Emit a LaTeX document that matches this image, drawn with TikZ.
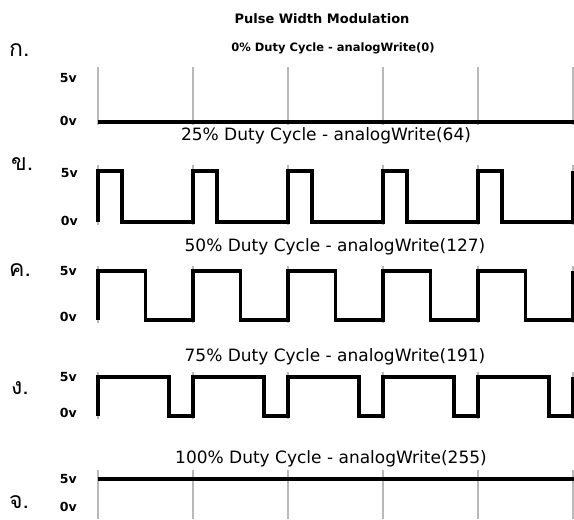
\documentclass[tikz,border=0pt]{standalone}
\usepackage{fontspec}
\setmainfont{DejaVu Sans}
\newfontfamily\thaifont[Script=Thai]{Loma}
\usetikzlibrary{positioning}

\begin{document}
\begin{tikzpicture}[x=1pt,y=-1pt,
  gridline/.style={color=gray!55, line width=1.1pt},
  wave/.style={color=black, line width=3.8pt, line join=miter},
  volt/.style={anchor=east, inner sep=0pt, font=\fontsize{12.5}{12.5}\selectfont\bfseries},
  caption/.style={inner sep=0pt, font=\fontsize{17}{17}\selectfont},
  choice/.style={anchor=west, inner sep=0pt, font=\thaifont\fontsize{23}{23}\selectfont}]
\useasboundingbox (0,0) rectangle (574,520);

\node[inner sep=0pt, font=\fontsize{13}{13}\selectfont\bfseries] (title) at (322,19) {Pulse Width Modulation};

% 0% 
\node[choice] (optA) at (9,50) {ก.};
\node[caption, font=\fontsize{11.5}{11.5}\selectfont\bfseries] (capA) at (333,48) {0\% Duty Cycle - analogWrite(0)};
\node[volt] (hiA) at (77,78) {5v};
\node[volt] (loA) at (77,121) {0v};
\foreach \x in {98,193,...,573} \draw[gridline] (\x,67) -- (\x,125);
\draw[wave] (98,122) -- (574,122);

% 25%
\node[choice] (optB) at (11,164) {ข.};
\node[caption] (capB) at (326,136) {25\% Duty Cycle - analogWrite(64)};
\node[volt] (hiB) at (78,173) {5v};
\node[volt] (loB) at (78,221) {0v};
\foreach \x in {98,193,...,573} \draw[gridline] (\x,165) -- (\x,225);
\draw[wave] (98,222) \foreach \x in {98,193,288,383,478} { -- (\x,171) -- (\x+24,171) -- (\x+24,222) -- (\x+95,222) } -- (573,171);

% 50%
\node[choice] (optC) at (9,270) {ค.};
\node[caption] (capC) at (335,247) {50\% Duty Cycle - analogWrite(127)};
\node[volt] (hiC) at (77,271) {5v};
\node[volt] (loC) at (77,317) {0v};
\foreach \x in {98,193,...,573} \draw[gridline] (\x,266) -- (\x,323);
\draw[wave] (98,320) \foreach \x in {98,193,288,383,478} { -- (\x,271) -- (\x+47.5,271) -- (\x+47.5,320) -- (\x+95,320) } -- (573,271);

% 75%
\node[choice] (optD) at (11,388) {ง.};
\node[caption] (capD) at (335,357) {75\% Duty Cycle - analogWrite(191)};
\node[volt] (hiD) at (77,377) {5v};
\node[volt] (loD) at (77,413) {0v};
\foreach \x in {98,193,...,573} \draw[gridline] (\x,372) -- (\x,419);
\draw[wave] (98,416) \foreach \x in {98,193,288,383,478} { -- (\x,377) -- (\x+71,377) -- (\x+71,416) -- (\x+95,416) } -- (573,377);

% 100%
\node[choice] (optE) at (9,502) {จ.};
\node[caption] (capE) at (331,459) {100\% Duty Cycle - analogWrite(255)};
\node[volt] (hiE) at (77,479) {5v};
\node[volt] (loE) at (77,507) {0v};
\foreach \x in {98,193,...,573} \draw[gridline] (\x,470) -- (\x,519);
\draw[wave] (98,479) -- (574,479);

\end{tikzpicture}
\end{document}
